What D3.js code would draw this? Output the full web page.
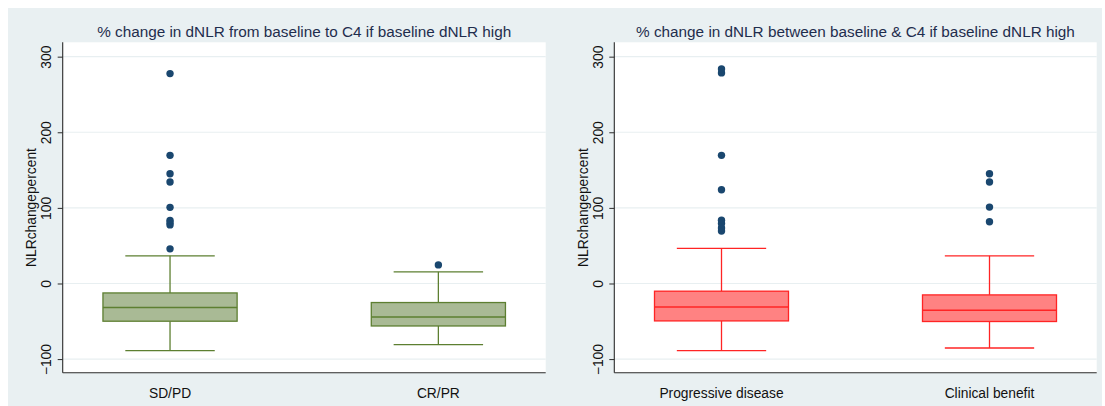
<!DOCTYPE html>
<html>
<head>
<meta charset="utf-8">
<script src="https://cdn.jsdelivr.net/npm/d3@7"></script>
<style>
  html, body { margin: 0; padding: 0; background: #ffffff; }
  svg { display: block; font-family: "Liberation Sans", Arial, Helvetica, sans-serif; }
</style>
</head>
<body>
<svg id="chart" width="1105" height="406"></svg>
<script>
// ---- Data: % change in dNLR, box-plot summaries per group ----
const leftTitle = "% change in dNLR from baseline to C4 if baseline dNLR high";
const leftGroups = ["SD/PD", "CR/PR"];
const leftLowerWhisker = [-88.7, -80.8];
const leftQ1 = [-49.9, -56.2];
const leftMedian = [-31.8, -44.2];
const leftQ3 = [-12.5, -25.2];
const leftUpperWhisker = [36.6, 15.4];
const leftOutliers = [
  [45.8, 77.5, 80.3, 83.5, 100.7, 134.2, 145.2, 169.5, 277.6],
  [24.6]
];

const rightTitle = "% change in dNLR between baseline & C4 if baseline dNLR high";
const rightGroups = ["Progressive disease", "Clinical benefit"];
const rightLowerWhisker = [-88.7, -85.3];
const rightQ1 = [-49.5, -50.3];
const rightMedian = [-31.0, -35.4];
const rightQ3 = [-10.2, -15.1];
const rightUpperWhisker = [46.4, 36.6];
const rightOutliers = [
  [69.5, 73.5, 79.4, 83.8, 124.0, 169.5, 278.5, 283.8],
  [81.6, 101.0, 134.2, 145.2]
];

const yTicks = [-100, 0, 100, 200, 300];
const yLabel = "NLRchangepercent";

// ---- Layout / styling ----
const W = 1105, H = 406;
const svg = d3.select("#chart");

svg.append("rect")
  .attr("x", 8).attr("y", 8)
  .attr("width", 1094).attr("height", H - 8)
  .attr("fill", "#e9f0f2");

function drawPanel(opts) {
  const { left, right, top, bottom, title, groups, lw, q1, med, q3, uw, outs, boxFill, boxStroke } = opts;
  const g = svg.append("g");

  const y = d3.scaleLinear().domain([-118, 319]).range([bottom, top]);
  const x = d3.scalePoint().domain(groups).range([left, right]).padding(0.4);
  const boxW = x.step() * 0.5;
  const capW = boxW * 2 / 3;

  // plot region
  g.append("rect")
    .attr("x", left).attr("y", top)
    .attr("width", right - left).attr("height", bottom - top)
    .attr("fill", "#ffffff");

  // horizontal grid
  g.selectAll("line.grid").data(yTicks).join("line")
    .attr("class", "grid")
    .attr("x1", left).attr("x2", right)
    .attr("y1", d => y(d)).attr("y2", d => y(d))
    .attr("stroke", "#e8eff1").attr("stroke-width", 1.2);

  // y axis with rotated labels
  const yAxis = d3.axisLeft(y).tickValues(yTicks).tickSize(5).tickPadding(0).tickFormat(d3.format("d"));
  const ya = g.append("g").attr("transform", `translate(${left},0)`).call(yAxis);
  ya.select(".domain").attr("stroke", "#2b2b2b").attr("stroke-width", 1.1)
    .attr("d", `M0,${top}V${bottom}`);
  ya.selectAll(".tick line").attr("stroke", "#2b2b2b").attr("stroke-width", 1);
  ya.selectAll(".tick text")
    .attr("x", null).attr("dy", null)
    .attr("transform", "translate(-11.5,0) rotate(-90)")
    .attr("text-anchor", "middle")
    .attr("font-size", 13.8)
    .attr("fill", "#111");

  // x axis line
  g.append("line")
    .attr("x1", left).attr("x2", right)
    .attr("y1", bottom).attr("y2", bottom)
    .attr("stroke", "#2b2b2b").attr("stroke-width", 1.1);

  // category labels
  g.selectAll("text.cat").data(groups).join("text")
    .attr("class", "cat")
    .attr("x", d => x(d)).attr("y", bottom + 25)
    .attr("text-anchor", "middle")
    .attr("font-size", 13.8)
    .attr("fill", "#111")
    .text(d => d);

  // axis title
  g.append("text")
    .attr("transform", `translate(${left - 26.3},${(top + bottom) / 2}) rotate(-90)`)
    .attr("text-anchor", "middle")
    .attr("font-size", 13.8)
    .attr("fill", "#111")
    .text(yLabel);

  // panel title
  g.append("text")
    .attr("x", (left + right) / 2).attr("y", 37.3)
    .attr("text-anchor", "middle")
    .attr("font-size", 15.3)
    .attr("fill", "#1f2d4d")
    .text(title);

  // boxes
  groups.forEach((name, i) => {
    const cx = x(name);
    const bg = g.append("g");
    // whiskers
    bg.append("line").attr("x1", cx).attr("x2", cx)
      .attr("y1", y(q3[i])).attr("y2", y(uw[i]))
      .attr("stroke", boxStroke).attr("stroke-width", 1.3);
    bg.append("line").attr("x1", cx).attr("x2", cx)
      .attr("y1", y(q1[i])).attr("y2", y(lw[i]))
      .attr("stroke", boxStroke).attr("stroke-width", 1.3);
    bg.append("line").attr("x1", cx - capW / 2).attr("x2", cx + capW / 2)
      .attr("y1", y(uw[i])).attr("y2", y(uw[i]))
      .attr("stroke", boxStroke).attr("stroke-width", 1.3);
    bg.append("line").attr("x1", cx - capW / 2).attr("x2", cx + capW / 2)
      .attr("y1", y(lw[i])).attr("y2", y(lw[i]))
      .attr("stroke", boxStroke).attr("stroke-width", 1.3);
    // box
    bg.append("rect")
      .attr("x", cx - boxW / 2).attr("y", y(q3[i]))
      .attr("width", boxW).attr("height", y(q1[i]) - y(q3[i]))
      .attr("fill", boxFill).attr("stroke", boxStroke).attr("stroke-width", 1.3);
    // median
    bg.append("line").attr("x1", cx - boxW / 2).attr("x2", cx + boxW / 2)
      .attr("y1", y(med[i])).attr("y2", y(med[i]))
      .attr("stroke", boxStroke).attr("stroke-width", 1.5);
    // outside values
    bg.selectAll("circle").data(outs[i]).join("circle")
      .attr("cx", cx).attr("cy", d => y(d)).attr("r", 3.7)
      .attr("fill", "#1a476f");
  });
}

drawPanel({
  left: 62.7, right: 545.7, top: 42.3, bottom: 372.7,
  title: leftTitle, groups: leftGroups,
  lw: leftLowerWhisker, q1: leftQ1, med: leftMedian, q3: leftQ3, uw: leftUpperWhisker, outs: leftOutliers,
  boxFill: "#a9ba95", boxStroke: "#5d7f31"
});

drawPanel({
  left: 614.3, right: 1096.7, top: 42.3, bottom: 372.7,
  title: rightTitle, groups: rightGroups,
  lw: rightLowerWhisker, q1: rightQ1, med: rightMedian, q3: rightQ3, uw: rightUpperWhisker, outs: rightOutliers,
  boxFill: "#ff8282", boxStroke: "#ff2424"
});
</script>
</body>
</html>
